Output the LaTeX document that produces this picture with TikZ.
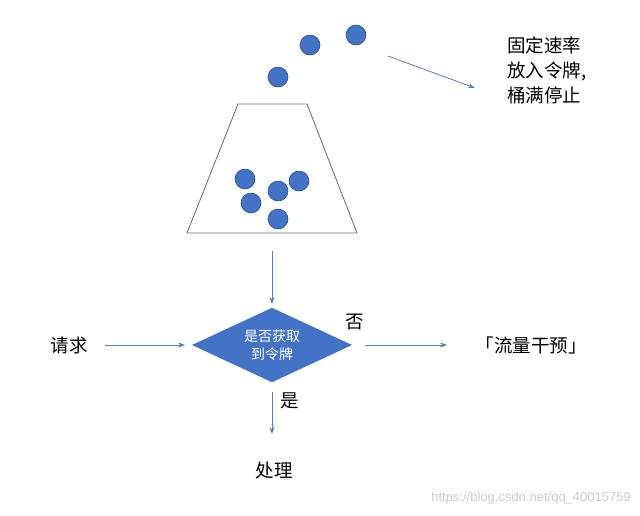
\documentclass[tikz,border=0pt]{standalone}
\usepackage{fontspec}
\setmainfont{Noto Sans CJK SC}
\setsansfont{Liberation Sans}
\usetikzlibrary{arrows.meta,shapes.geometric}
\definecolor{ballblue}{HTML}{4472C4}
\definecolor{balledge}{HTML}{2F528F}
\definecolor{arrowc}{HTML}{5B7DB8}
\definecolor{bucketc}{HTML}{5A6A8C}
\tikzset{
  ball/.style={circle,fill=ballblue,draw=balledge,line width=0.6pt,minimum size=20pt,inner sep=0pt},
  conn/.style={draw=arrowc,line width=0.8pt,-{Stealth[length=7pt,width=5pt]}},
  lbl/.style={font=\fontsize{18.5}{22}\selectfont,inner sep=0pt},
  decision/.style={diamond,fill=ballblue,draw=ballblue,aspect=2.15,minimum width=159pt,minimum height=74pt,inner sep=0pt,text=white,align=center,font=\fontsize{14}{18}\selectfont}
}
\begin{document}
\begin{tikzpicture}[x=1pt,y=-1pt]
\useasboundingbox[fill=white] (0,0) rectangle (640,515);
% bucket
\draw[bucketc,line width=0.8pt] (238,104) -- (307,104) -- (357,233) -- (187,233) -- cycle;
% falling tokens
\node[ball] (t1) at (278,77) {};
\node[ball] (t2) at (310,45) {};
\node[ball] (t3) at (356,35) {};
% tokens in bucket
\node[ball] (b1) at (245,179) {};
\node[ball] (b2) at (278,191) {};
\node[ball] (b3) at (299,181) {};
\node[ball] (b4) at (251,203) {};
\node[ball] (b5) at (278,219) {};
% note
\coordinate (na) at (388,56);
\coordinate (nb) at (475,88);
\draw[conn] (na) -- (nb);
\node[lbl,anchor=north west,align=left,font=\fontsize{18.5}{25}\selectfont] (note) at (507,37) {固定速率\\放入令牌,\\桶满停止};
% flow
\coordinate (bt) at (272,251);
\node[decision] (d) at (272,345) {是否获取\\到令牌};
\draw[conn] (bt) -- (272,304);
\node[lbl] (req) at (69,345) {请求};
\draw[conn] (105,345) -- (185,345);
\node[lbl] (no) at (355,322) {否};
\node[lbl] (flow) at (531,345) {「流量干预」};
\draw[conn] (365,345) -- (447,345);
\node[lbl] (yes) at (290,401) {是};
\node[lbl] (proc) at (274,470) {处理};
\draw[conn] (272,392) -- (272,434);
% watermark
\node[anchor=east,inner sep=0pt,text=black!20,font=\sffamily\fontsize{13}{15}\selectfont] (wm) at (631,498) {https://blog.csdn.net/qq\_40015759};
\end{tikzpicture}
\end{document}
